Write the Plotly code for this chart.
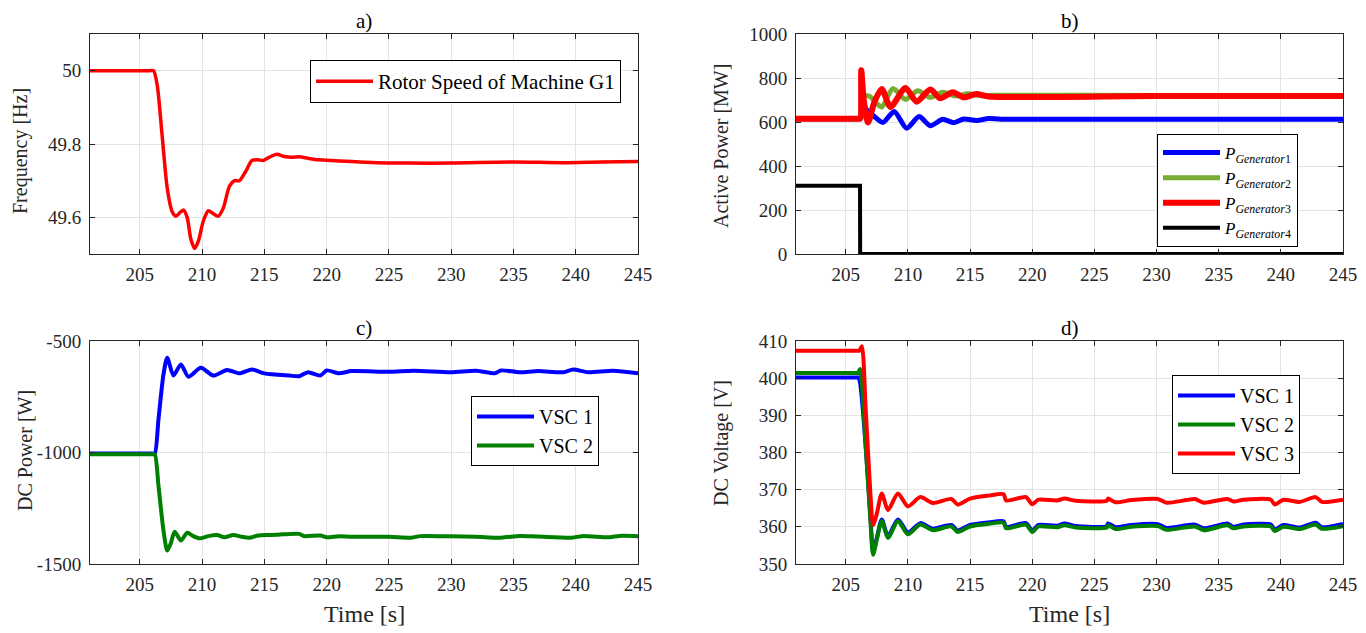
import plotly.graph_objects as go

# ---------------- data ----------------
# a) rotor speed
t_freq = [201, 203.0, 205.0, 205.8, 206.1, 206.4, 206.8, 207.2, 207.6, 207.9, 208.2, 208.5, 208.8,
          209.1, 209.4, 209.7, 210.1, 210.5, 210.9, 211.3, 211.7, 212.2, 212.6, 213.0, 213.5, 214.0,
          214.5, 214.9, 215.4, 216.0, 216.6, 217.2, 217.8, 218.5, 219.3, 220.0, 222.0, 224.0, 226.5,
          230.0, 235.0, 239.0, 242.0, 245.0]
f_freq = [50.0, 50.0, 50.0, 50.0, 50.0, 49.96, 49.82, 49.68, 49.615, 49.603, 49.612, 49.62, 49.6,
          49.54, 49.515, 49.535, 49.59, 49.618, 49.61, 49.603, 49.625, 49.685, 49.7, 49.7, 49.725, 49.755,
          49.757, 49.755, 49.764, 49.772, 49.766, 49.764, 49.765, 49.761, 49.757, 49.756, 49.752, 49.749,
          49.748, 49.748, 49.751, 49.749, 49.751, 49.752]

# b) active power
t_g1 = [201, 203.0, 205.0, 206.0, 206.2, 206.45, 206.7, 207.3, 208.0, 208.9, 209.9, 210.9, 211.8,
        212.8, 213.7, 214.5, 215.5, 216.5, 217.5, 230.0, 245]
p_g1 = [615, 615, 615, 615, 615, 665, 655, 625, 598, 648, 572, 625, 583, 612, 597, 614, 607, 616,
        613, 613, 613]
t_g2 = [201, 203.0, 205.0, 206.0, 206.2, 206.4, 206.9, 207.4, 207.9, 208.8, 209.8, 210.8, 211.8,
        212.8, 213.8, 214.8, 215.8, 217.0, 230.0, 245]
p_g2 = [615, 615, 615, 615, 615, 715, 718, 690, 668, 752, 703, 742, 712, 735, 718, 728, 720, 722,
        720, 720]
t_g3 = [201, 203.0, 205.0, 206.0, 206.15, 206.25, 206.45, 206.8, 207.3, 207.9, 208.6, 209.8, 210.7,
        211.8, 212.6, 213.6, 214.5, 215.5, 216.5, 230.0, 245]
p_g3 = [615, 615, 615, 615, 615, 835, 700, 598, 690, 750, 668, 755, 692, 748, 708, 735, 712, 727,
        716, 718, 718]
t_g4 = [201, 206.15, 206.16, 245]
p_g4 = [310, 310, 0, 0]

# c) DC power
t_c1 = [201, 203.0, 205.0, 206.0, 206.2, 206.5, 206.9, 207.2, 207.7, 208.3, 208.9, 209.9, 210.9,
        212.0, 213.0, 214.0, 215.0, 217.0, 217.8, 218.5, 219.5, 220.0, 221.0, 222.0, 225.0, 227.0,
        230.0, 232.0, 233.5, 234.0, 235.5, 237.0, 239.0, 239.8, 241.0, 243.0, 245.0]
p_c1 = [-1005, -1005, -1005, -1005, -1005, -850, -650, -575, -655, -605, -660, -620, -655,
        -630, -645, -628, -645, -655, -658, -640, -655, -632, -645, -635, -638, -633,
        -640, -633, -645, -632, -640, -635, -640, -628, -640, -633, -645]
t_c2 = [201, 203.0, 205.0, 206.0, 206.2, 206.5, 206.9, 207.2, 207.5, 207.8, 208.3, 208.8, 209.3,
        209.8, 210.5, 211.2, 211.8, 212.5, 213.2, 213.8, 214.5, 215.5, 216.5, 217.8, 218.2, 219.5,
        220.0, 221.0, 222.0, 225.0, 226.8, 227.5, 230.0, 232.0, 234.0, 235.5, 237.0, 239.7, 240.5,
        242.7, 243.5, 245.0]
p_c2 = [-1008, -1008, -1008, -1008, -1008, -1150, -1350, -1440, -1405, -1355, -1395, -1360, -1375,
        -1385, -1375, -1370, -1380, -1370, -1378, -1382, -1372, -1370, -1367, -1365, -1375, -1372,
        -1380, -1375, -1378, -1378, -1382, -1375, -1376, -1378, -1382, -1374, -1377, -1382, -1375,
        -1380, -1374, -1375]

# d) DC voltage
t_d1 = [201, 203.0, 205.0, 205.9, 206.0, 206.15, 206.6, 207.0, 207.2, 207.5, 207.9, 208.4, 209.2,
        210.0, 211.0, 212.0, 213.5, 214.0, 215.0, 216.5, 217.7, 217.9, 219.5, 220.0, 220.5, 222.0,
        222.6, 223.5, 226.0, 226.1, 226.7, 228.0, 230.1, 230.8, 232.4, 233.1, 233.8, 235.7, 236.2,
        237.0, 239.2, 239.5, 240.2, 241.5, 242.8, 243.3, 245.0]
v_d1 = [400.2, 400.2, 400.2, 400.2, 400.2, 398.8, 382, 362, 353.5, 357, 362, 357.5, 362,
        358.5, 361, 359.5, 360.5, 359, 360.5, 361.2, 361.5, 360, 361, 359, 360.5, 360.3,
        360.9, 360.2, 360.2, 360.9, 359.9, 360.5, 360.7, 359.7, 360.4, 360.6, 359.6, 360.9, 360.0,
        360.6, 360.6, 359.3, 360.5, 359.8, 361.1, 359.9, 360.8]
t_d2 = [201, 203.0, 205.0, 205.9, 206.0, 206.15, 206.6, 207.0, 207.2, 207.5, 207.9, 208.4, 209.2,
        210.0, 211.0, 212.0, 213.5, 214.0, 215.0, 216.5, 217.7, 217.9, 219.5, 220.0, 220.5, 222.0,
        222.6, 223.5, 226.0, 226.1, 226.7, 228.0, 230.1, 230.8, 232.4, 233.1, 233.8, 235.7, 236.2,
        237.0, 239.2, 239.5, 240.2, 241.5, 242.8, 243.3, 245.0]
v_d2 = [401.4, 401.4, 401.4, 401.4, 401.4, 402.5, 382, 361, 352.5, 356.5, 361.6, 357, 361.6,
        358, 360.6, 359.1, 360.1, 358.6, 360.1, 360.8, 361.1, 359.6, 360.6, 358.6, 360.1, 359.9,
        360.4, 359.8, 359.8, 360.4, 359.4, 360.0, 360.2, 359.2, 359.9, 360.1, 359.1, 360.4, 359.6,
        360.1, 360.1, 358.9, 360.0, 359.4, 360.6, 359.5, 360.2]
t_d3 = [201, 203.0, 205.0, 206.0, 206.1, 206.3, 206.6, 207.0, 207.2, 207.5, 207.9, 208.4, 209.2,
        210.0, 211.0, 212.0, 213.5, 214.0, 215.0, 216.5, 217.7, 217.9, 219.5, 220.0, 220.5, 222.0,
        222.6, 223.5, 226.0, 226.1, 226.7, 228.0, 230.1, 230.8, 232.4, 233.1, 233.8, 235.7, 236.2,
        237.0, 239.2, 239.5, 240.2, 241.5, 242.8, 243.3, 245.0]
v_d3 = [407.4, 407.4, 407.4, 407.4, 407.4, 408.6, 392, 368, 360.5, 363.5, 369, 364.5, 369,
        365.5, 368, 366.4, 367.5, 366, 367.6, 368.4, 368.8, 367.1, 368, 366.1, 367.3, 367.1,
        367.6, 367.0, 367.0, 367.6, 366.6, 367.2, 367.5, 366.5, 367.2, 367.5, 366.5, 367.5, 366.8,
        367.3, 367.3, 366.0, 367.3, 366.7, 368.0, 366.7, 367.3]

titles = ["a)", "b)", "c)", "d)"]
y_titles = ["Frequency [Hz]", "Active Power [MW]", "DC Power [W]", "DC Voltage [V]"]
x_ticks = [205, 210, 215, 220, 225, 230, 235, 240, 245]
y_tickvals = [[49.6, 49.8, 50.0], [0, 200, 400, 600, 800, 1000], [-1500, -1000, -500],
              [350, 360, 370, 380, 390, 400, 410]]
y_ticktext = [["49.6", "49.8", "50"], ["0", "200", "400", "600", "800", "1000"],
              ["-1500", "-1000", "-500"], ["350", "360", "370", "380", "390", "400", "410"]]
y_ranges = [[49.5, 50.1], [0, 1000], [-1500, -500], [350, 410]]

# ---------------- figure ----------------
W, H = 1366, 633
OFF = 8          # page body margin of the html page
FONT = "Liberation Serif"
AX = "#262626"


def px(x):
    return (x - OFF) / W


def py(y):
    return 1 - (y - OFF) / H


fig = go.Figure()


def tr(x, y, color, width, name, xa, ya, leg, shape="spline"):
    fig.add_trace(go.Scatter(x=x, y=y, mode="lines", name=name,
                             line=dict(color=color, width=width, shape=shape, smoothing=0.7),
                             xaxis=xa, yaxis=ya, legend=leg))


tr(t_freq, f_freq, "#ff0000", 3.5, "Rotor Speed of Machine G1", "x", "y", "legend")

gen = "<i>P</i><sub><i>Generator</i>%d</sub>"
tr(t_g1, p_g1, "#0000ff", 5, gen % 1, "x2", "y2", "legend2")
tr(t_g2, p_g2, "#77ac30", 5, gen % 2, "x2", "y2", "legend2")
tr(t_g3, p_g3, "#ff0000", 6, gen % 3, "x2", "y2", "legend2")
tr(t_g4, p_g4, "#000000", 4, gen % 4, "x2", "y2", "legend2", shape="linear")

tr(t_c1, p_c1, "#0000ff", 4, "VSC 1", "x3", "y3", "legend3")
tr(t_c2, p_c2, "#008000", 4, "VSC 2", "x3", "y3", "legend3")

tr(t_d1, v_d1, "#0000ff", 4, "VSC 1", "x4", "y4", "legend4")
tr(t_d2, v_d2, "#008000", 4, "VSC 2", "x4", "y4", "legend4")
tr(t_d3, v_d3, "#ff0000", 4, "VSC 3", "x4", "y4", "legend4")

col_x = [(90, 638), (796, 1343)]
row_y = [(34, 254), (341, 564)]

common = dict(showline=True, linecolor=AX, linewidth=1, mirror="ticks", ticks="inside",
              ticklen=5, tickcolor=AX, showgrid=True, gridcolor="#e4e4e4", gridwidth=1,
              zeroline=False, automargin=False, tickfont=dict(family=FONT, size=19, color=AX))

layout = dict(width=W, height=H, margin=dict(l=0, r=0, t=0, b=0, pad=0, autoexpand=False),
              paper_bgcolor="white", plot_bgcolor="white", showlegend=True,
              font=dict(family=FONT, color=AX))
annotations = []
for i in range(4):
    r, c = divmod(i, 2)
    xs = "" if i == 0 else str(i + 1)
    x0, x1 = col_x[c]
    y0, y1 = row_y[r]
    layout["xaxis" + xs] = dict(domain=[px(x0), px(x1)], range=[201, 245], anchor="y" + xs,
                                tickvals=x_ticks, ticklabelstandoff=3, **common)
    layout["yaxis" + xs] = dict(domain=[py(y1), py(y0)], range=y_ranges[i], anchor="x" + xs,
                                tickvals=y_tickvals[i], ticktext=y_ticktext[i],
                                ticklabelstandoff=4, **common)
    annotations.append(dict(text=titles[i], x=px((x0 + x1) / 2), y=py(y0 - 13), xref="paper",
                            yref="paper", showarrow=False, xanchor="center", yanchor="middle",
                            font=dict(family=FONT, size=21, color="#000000")))
yt_x = [21, 721, 25, 721]
yt_y = [151, 146, 451, 443]
for i in range(4):
    annotations.append(dict(text=y_titles[i], x=px(yt_x[i]), y=py(yt_y[i]), xref="paper",
                            yref="paper", showarrow=False, textangle=-90, xanchor="center",
                            yanchor="middle", font=dict(family=FONT, size=20, color=AX)))
for c in range(2):
    x0, x1 = col_x[c]
    annotations.append(dict(text="Time [s]", x=px((x0 + x1) / 2), y=py(614), xref="paper",
                            yref="paper", showarrow=False, xanchor="center", yanchor="middle",
                            font=dict(family=FONT, size=24, color=AX)))
layout["annotations"] = annotations

leg_common = dict(bgcolor="white", bordercolor="#000000", borderwidth=1, xanchor="left",
                  yanchor="top", font=dict(family=FONT, size=21, color="#000000"),
                  tracegroupgap=0, itemclick=False, itemwidth=57)
layout["legend"] = dict(x=px(310), y=py(60), **leg_common)
layout["legend2"] = dict(x=px(1157), y=py(134),
                         **{**leg_common, "font": dict(family=FONT, size=17, color="#000000")})
layout["legend3"] = dict(x=px(471), y=py(396),
                         **{**leg_common, "font": dict(family=FONT, size=20, color="#000000")})
layout["legend4"] = dict(x=px(1172), y=py(375),
                         **{**leg_common, "font": dict(family=FONT, size=20, color="#000000")})

fig.update_layout(**layout)
fig.write_html("out.html")
